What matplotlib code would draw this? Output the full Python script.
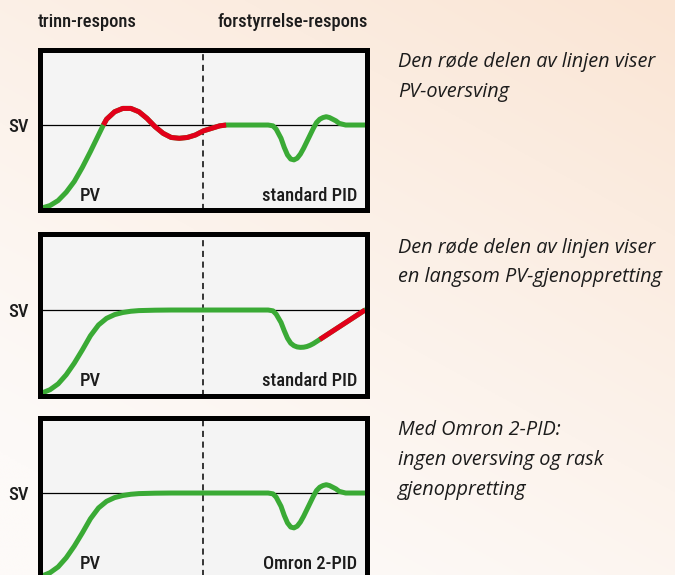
import numpy as np
import matplotlib.pyplot as plt

W, H = 675, 575

# values: x runs 0..10 across a panel, SV level = 1
step_over_x = [0, 0.25, 0.5, 0.75, 1.0, 1.25, 1.5, 1.75, 1.9, 2.0, 2.25, 2.5, 2.75,
               3.0, 3.25, 3.5, 3.75, 4.0, 4.25, 4.5, 4.75, 5.0, 5.25, 5.5, 5.7, 6.0]
step_over_y = [0, 0.03, 0.09, 0.19, 0.32, 0.49, 0.68, 0.88, 1.0, 1.07, 1.16, 1.20, 1.20,
               1.16, 1.08, 0.98, 0.90, 0.85, 0.84, 0.85, 0.88, 0.93, 0.96, 0.99, 1.0, 1.0]

step_smooth_x = [0, 0.25, 0.5, 0.75, 1.0, 1.25, 1.5, 1.75, 2.0, 2.25, 2.5, 2.75, 3.0,
                 3.5, 4.0, 5.0, 6.0]
step_smooth_y = [0, 0.04, 0.11, 0.22, 0.36, 0.52, 0.69, 0.82, 0.90, 0.945, 0.97, 0.985,
                 0.993, 0.998, 1.0, 1.0, 1.0]

# fast disturbance recovery (with small overshoot)
dist_x = [6.0, 7.0, 7.15, 7.25, 7.4, 7.5, 7.6, 7.7, 7.8, 7.9, 8.0, 8.1, 8.2, 8.3, 8.4,
          8.5, 8.6, 8.7, 8.8, 8.9, 9.0, 9.1, 9.2, 9.3, 9.4, 10.0]
dist_y = [1.0, 1.0, 0.99, 0.95, 0.84, 0.73, 0.64, 0.59, 0.58, 0.60, 0.65, 0.72, 0.80,
          0.88, 0.96, 1.03, 1.07, 1.09, 1.10, 1.09, 1.07, 1.05, 1.02, 1.01, 1.0, 1.0]

# slow disturbance recovery
slow_x = [6.0, 7.0, 7.15, 7.25, 7.4, 7.5, 7.6, 7.7, 7.8, 7.9, 8.0, 8.1, 8.2, 8.3, 8.4,
          8.5, 8.6, 10.0]
slow_y = [1.0, 1.0, 0.99, 0.95, 0.85, 0.75, 0.66, 0.60, 0.57, 0.555, 0.55, 0.552, 0.56,
          0.575, 0.595, 0.62, 0.645, 1.0]

# red (problem) stretches per panel, as x ranges
red_ranges = [(1.9, 5.7), (8.6, 10.0), None]
controller = ["standard PID", "standard PID", "Omron 2-PID"]

headers = ["trinn-respons", "forstyrrelse-respons"]
notes = [
    ["Den røde delen av linjen viser", "PV-oversving"],
    ["Den røde delen av linjen viser", "en langsom PV-gjenoppretting"],
    ["Med Omron 2-PID:", "ingen oversving og rask", "gjenoppretting"],
]

panel_x = [step_over_x + dist_x[1:], step_smooth_x + slow_x[1:], step_smooth_x + dist_x[1:]]
panel_y = [step_over_y + dist_y[1:], step_smooth_y + slow_y[1:], step_smooth_y + dist_y[1:]]

GREEN = "#3aaa35"
RED = "#e2001a"
INK = "#1c1c1c"
label_font = ["Roboto Condensed", "Roboto"]
note_font = ["Open Sans", "DejaVu Sans"]
LSIZE = 13.3

fig = plt.figure(figsize=(W / 100, H / 100), dpi=100)

# warm background, peach at the top right fading to near white
bg = fig.add_axes([0, 0, 1, 1], zorder=-10)
gx, gy = np.meshgrid(np.linspace(0, 1, 300), np.linspace(0, 1, 300))
w = np.clip(0.7 * (1 - gy) + 0.45 * gx - 0.15, 0, 1) ** 1.2
peach = np.array([250, 229, 212]) / 255
light = np.array([253, 250, 248]) / 255
bg.imshow(light + (peach - light) * w[..., None], extent=[0, 1, 0, 1],
          aspect="auto", origin="upper")
bg.axis("off")

panel_tops = [49.5, 234.5, 417.5]
for i, top in enumerate(panel_tops):
    ax = fig.add_axes([39.5 / W, 1 - (top + 161) / H, 328 / W, 161 / H])
    ax.set_xlim(-0.077, 10.077)
    ax.set_ylim(-0.03, 1.91)
    ax.set_facecolor("#f4f4f4")
    for s in ax.spines.values():
        s.set_linewidth(3.6)
        s.set_color("black")
    ax.set_xticks([])
    ax.set_yticks([])
    ax.axhline(1, color="black", lw=0.9, zorder=1)
    ax.axvline(5, color="black", lw=1.1, ls=(0, (4, 3)), zorder=1)

    x = np.array(panel_x[i])
    y = np.array(panel_y[i])
    ax.plot(x, y, color=GREEN, lw=3.6, solid_capstyle="round",
            solid_joinstyle="round", zorder=2)
    if red_ranges[i] is not None:
        lo, hi = red_ranges[i]
        m = (x >= lo) & (x <= hi)
        ax.plot(x[m], y[m], color=RED, lw=3.6, solid_capstyle="butt",
                solid_joinstyle="round", zorder=2.1)

    ax.annotate("SV", xy=(0, 1), xycoords=("axes fraction", "data"),
                xytext=(-22.7, -4.7), textcoords="offset points",
                ha="left", va="baseline", fontsize=LSIZE, fontweight="medium",
                family=label_font, color=INK, annotation_clip=False)
    ax.text(0.1235, 0.06, "PV", transform=ax.transAxes, ha="left", va="baseline",
            fontsize=LSIZE, fontweight="medium", family=label_font, color=INK)
    ax.text(0.968, 0.06, controller[i], transform=ax.transAxes, ha="right",
            va="baseline", fontsize=LSIZE, fontweight="medium", family=label_font,
            color=INK)

fig.text(38 / W, 1 - 27 / H, headers[0], ha="left", va="baseline", fontsize=LSIZE,
         fontweight="medium", family=label_font, color=INK)
fig.text(368 / W, 1 - 27 / H, headers[1], ha="right", va="baseline", fontsize=LSIZE,
         fontweight="medium", family=label_font, color=INK)

note_baselines = [67, 252.5, 435]
for lines, base in zip(notes, note_baselines):
    for j, line in enumerate(lines):
        fig.text(398 / W, 1 - (base + j * 29.8) / H, line, ha="left", va="baseline",
                 fontsize=14.3, style="italic", family=note_font, color=INK)

fig.savefig("out.png", dpi=100)
